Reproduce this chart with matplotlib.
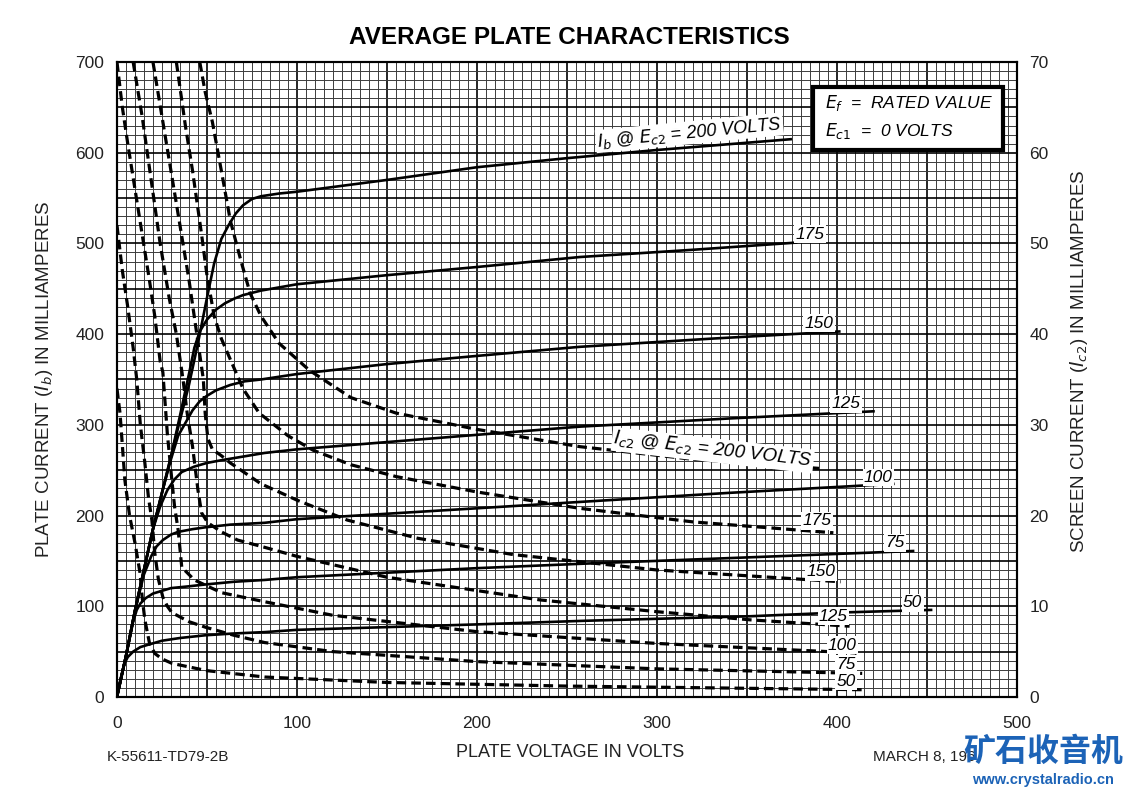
# AVERAGE PLATE CHARACTERISTICS - beam power tube #

# %% Importing libraries
import matplotlib.pyplot as plt
from matplotlib.ticker import MultipleLocator, FuncFormatter
from matplotlib.patches import Rectangle

# %% Plate current curves Ib (mA), one pair of lists per screen voltage
ib_200_v = [0, 5, 10, 15, 20, 25, 30, 35, 40, 45, 50, 54, 58, 62, 66, 70, 75, 80, 90, 100, 150, 200, 250, 300, 350, 375]
ib_200_ma = [0, 45, 95, 140, 185, 225, 265, 305, 344, 390, 440, 478, 505, 520, 533, 542, 549, 552, 555, 557, 570, 584, 594, 603, 611, 615]

ib_175_v = [0, 5, 10, 15, 20, 25, 30, 35, 40, 43, 46, 50, 55, 60, 65, 70, 80, 100, 150, 200, 257, 320, 378]
ib_175_ma = [0, 45, 95, 140, 185, 225, 265, 310, 356, 385, 403, 416, 427, 434, 439, 443, 448, 455, 465, 474, 485, 493, 501]

ib_150_v = [0, 5, 10, 15, 20, 25, 30, 34, 38, 42, 46, 50, 55, 63, 71, 80, 100, 150, 200, 257, 330, 402]
ib_150_ma = [0, 45, 95, 140, 185, 225, 262, 288, 302, 316, 326, 332, 338, 344, 348, 350, 356, 367, 376, 386, 395, 403]

ib_125_v = [0, 5, 10, 15, 20, 24, 28, 32, 36, 43, 50, 58, 70, 82, 100, 150, 200, 257, 340, 421]
ib_125_ma = [0, 45, 95, 140, 185, 210, 228, 240, 248, 254, 258, 261, 265, 269, 273, 281, 289, 298, 307, 315]

ib_100_v = [0, 5, 10, 15, 19, 22, 25.5, 30, 34, 42, 49, 63, 82, 100, 150, 200, 257, 340, 432]
ib_100_ma = [0, 45, 95, 135, 155, 166, 173, 179, 182, 185, 187, 190, 192, 196, 202, 208, 215, 225, 235]

ib_75_v = [0, 5, 9, 11, 13, 16, 20, 25, 30, 40, 49, 65, 82, 100, 150, 200, 260, 352, 443]
ib_75_ma = [0, 45, 83, 96, 103, 109, 114, 117, 120, 122, 124, 127, 129, 132, 137, 142, 147, 154, 161]

ib_50_v = [0, 2, 4, 6, 9, 13, 18, 25, 35, 49, 65, 82, 100, 150, 200, 260, 352, 400, 453]
ib_50_ma = [0, 20, 36, 44, 50, 55, 58, 62, 65, 68, 70, 71.5, 74, 77, 80, 84, 89, 93, 96]

# %% Screen current curves Ic2 (mA, right hand scale)
ic2_200_v = [46, 49, 53, 58, 63, 69, 74, 80, 90, 107, 130, 155, 200, 257, 320, 390]
ic2_200_ma = [70, 66.7, 63.4, 58, 52.5, 48, 44.5, 42, 39, 36, 33, 31.3, 29.5, 27.6, 26.2, 25.2]

ic2_175_v = [33, 38, 42, 47, 50, 54, 58, 63, 70, 79, 95, 109, 130, 155, 200, 257, 320, 398]
ic2_175_ma = [70, 63, 58, 51, 46.5, 42, 39.5, 37.2, 34, 31.3, 28.8, 27.2, 25.6, 24.3, 22.6, 20.8, 19.3, 18.1]

ic2_150_v = [20, 25, 30, 35, 40, 44, 48, 49, 50.5, 53, 58, 63, 80, 100, 128, 167, 220, 300, 402]
ic2_150_ma = [70, 64, 58, 52, 46, 40.5, 35, 31.3, 28.5, 27.3, 26.6, 25.8, 23.5, 21.7, 19.5, 17.5, 15.7, 14.0, 12.7]

ic2_125_v = [9, 14, 19, 24, 29, 33, 36.7, 39, 42, 45, 47, 50.5, 58, 67, 82, 100, 150, 235, 300, 352, 407]
ic2_125_ma = [70, 64, 57, 50, 44, 40, 35, 31.3, 27.6, 22.8, 20.3, 19.2, 18.2, 17.3, 16.5, 15.5, 13.2, 10.7, 9.4, 8.5, 7.8]

ic2_100_v = [0, 3, 6, 10, 14, 18, 21, 24, 25.5, 28, 30.5, 32, 34, 36, 43, 58, 82, 120, 200, 300, 411]
ic2_100_ma = [70, 65, 61, 56, 51, 46, 42, 37, 35.8, 29, 23.9, 21, 18.4, 14.3, 12.9, 11.5, 10.5, 9.0, 7.2, 5.9, 4.85]

ic2_75_v = [0, 3, 6, 9, 11, 13, 15.5, 17.5, 19.4, 21, 23, 25.5, 28, 30.5, 40, 49, 65, 82, 120, 200, 300, 414]
ic2_75_ma = [52, 47, 43, 38.5, 35, 30, 25.8, 22, 19.5, 15.9, 13, 11, 10, 9.3, 8.3, 7.7, 6.8, 6.0, 5.0, 3.9, 3.1, 2.6]

ic2_50_v = [0, 1.7, 4.4, 7, 10, 12.8, 14, 15.5, 18, 21, 25, 30.6, 50, 82, 150, 250, 414]
ic2_50_ma = [34, 31.3, 23.9, 20, 17, 13.7, 11, 8.5, 6, 4.8, 4.2, 3.7, 2.9, 2.2, 1.6, 1.2, 0.8]

ib_curves = [(ib_200_v, ib_200_ma), (ib_175_v, ib_175_ma), (ib_150_v, ib_150_ma), (ib_125_v, ib_125_ma),
             (ib_100_v, ib_100_ma), (ib_75_v, ib_75_ma), (ib_50_v, ib_50_ma)]
ic2_curves = [(ic2_200_v, ic2_200_ma), (ic2_175_v, ic2_175_ma), (ic2_150_v, ic2_150_ma), (ic2_125_v, ic2_125_ma),
              (ic2_100_v, ic2_100_ma), (ic2_75_v, ic2_75_ma), (ic2_50_v, ic2_50_ma)]

# curve labels (text, volts, current)
ib_labels = [("175", 385, 510), ("150", 390, 412), ("125", 405, 323), ("100", 423, 242), ("75", 432, 170), ("50", 442, 104)]
ic2_labels = [("175", 389, 19.4), ("150", 391, 13.8), ("125", 398, 8.9), ("100", 403, 5.7), ("75", 405, 3.6), ("50", 405, 1.7)]

# %% Figure
plt.rcParams['font.family'] = ['Liberation Sans', 'DejaVu Sans']
fig = plt.figure(figsize=(11.3, 7.93), dpi=100)
ax = fig.add_axes([0.1035, 0.1211, 0.7965, 0.8007])
ax2 = ax.twinx()

ax.set_xlim(0, 500)
ax.set_ylim(0, 700)
ax2.set_ylim(0, 70)

# graph paper grid
ax.xaxis.set_major_locator(MultipleLocator(50))
ax.xaxis.set_minor_locator(MultipleLocator(5))
ax.yaxis.set_major_locator(MultipleLocator(50))
ax.yaxis.set_minor_locator(MultipleLocator(10))
ax2.yaxis.set_major_locator(MultipleLocator(5))
hundreds = FuncFormatter(lambda v, p: f"{int(v)}" if v % 100 == 0 else "")
tens = FuncFormatter(lambda v, p: f"{int(v)}" if v % 10 == 0 else "")
ax.xaxis.set_major_formatter(hundreds)
ax.yaxis.set_major_formatter(hundreds)
ax2.yaxis.set_major_formatter(tens)
ax.grid(which='minor', color='#3c3c3c', lw=0.7)
ax.grid(which='major', color='black', lw=1.2)
ax.tick_params(which='both', length=0, labelsize=12.5, colors='#222222')
ax.tick_params(axis='x', pad=14)
ax.tick_params(axis='y', pad=9)
ax2.tick_params(which='both', length=0, labelsize=12.5, colors='#222222', pad=9)
for a in (ax, ax2):
    for s in a.spines.values():
        s.set_linewidth(1.5)

# plate current (solid) and screen current (dashed)
for v, i in ib_curves:
    ax.plot(v, i, color='black', lw=1.9, solid_capstyle='butt')
for v, i in ic2_curves:
    ax2.plot(v, i, color='black', lw=2.3, linestyle=(0, (3, 1.6)))

box = dict(facecolor='white', edgecolor='none', pad=1.0)
for txt, v, i in ib_labels:
    ax.text(v, i, txt, fontsize=12.5, fontstyle='italic', ha='center', va='center', bbox=box, zorder=5)
for txt, v, i in ic2_labels:
    ax2.text(v, i, txt, fontsize=12.5, fontstyle='italic', ha='center', va='center', bbox=box, zorder=5)
ax.text(318, 622, r"$I_b$ @ $E_{c2}$ = 200 VOLTS", fontsize=13, fontstyle='italic', rotation=5.5,
        ha='center', va='center', bbox=box, zorder=5)
ax2.text(331, 27.2, r"$I_{c2}$ @ $E_{c2}$ = 200 VOLTS", fontsize=13.5, fontstyle='italic', rotation=-6.5,
         ha='center', va='center', bbox=box, zorder=5)

# conditions box
ax2.add_patch(Rectangle((0.773, 0.861), 0.211, 0.1, transform=ax2.transAxes, facecolor='white',
                        edgecolor='black', lw=3, zorder=6))
ax2.text(0.787, 0.936, r"$E_f$  =  RATED VALUE", transform=ax2.transAxes, fontsize=12.5, fontstyle='italic',
         va='center', zorder=7)
ax2.text(0.787, 0.892, r"$E_{c1}$  =  0 VOLTS", transform=ax2.transAxes, fontsize=12.5, fontstyle='italic',
         va='center', zorder=7)

# axis titles
ax.set_xlabel("PLATE VOLTAGE IN VOLTS", fontsize=13, color='#222222')
ax.xaxis.set_label_coords(0.503, -0.074)
ax.set_ylabel(r"PLATE CURRENT ($I_b$) IN MILLIAMPERES", fontsize=13.5, color='#222222')
ax.yaxis.set_label_coords(-0.069, 0.5)
ax2.set_ylabel(r"SCREEN CURRENT ($I_{c2}$) IN MILLIAMPERES", fontsize=13.5, color='#222222', rotation=90)
ax2.yaxis.set_label_coords(1.057, 0.528)

fig.text(0.504, 0.953, "AVERAGE PLATE CHARACTERISTICS", fontsize=17.5, fontweight='bold', ha='center', va='center')
fig.text(0.0947, 0.0454, "K-55611-TD79-2B", fontsize=11, va='center', color='#222222')
fig.text(0.7726, 0.0454, "MARCH 8, 196", fontsize=11, va='center', color='#222222')
fig.text(0.923, 0.052, "矿石收音机", fontsize=23, fontweight='bold', color='#1c63b7', ha='center', va='center',
         family=['Noto Sans CJK SC', 'DejaVu Sans'])
fig.text(0.923, 0.016, "www.crystalradio.cn", fontsize=10.5, fontweight='bold', color='#1c63b7', ha='center',
         va='center')

plt.savefig("out.png", dpi=100)
plt.close()
